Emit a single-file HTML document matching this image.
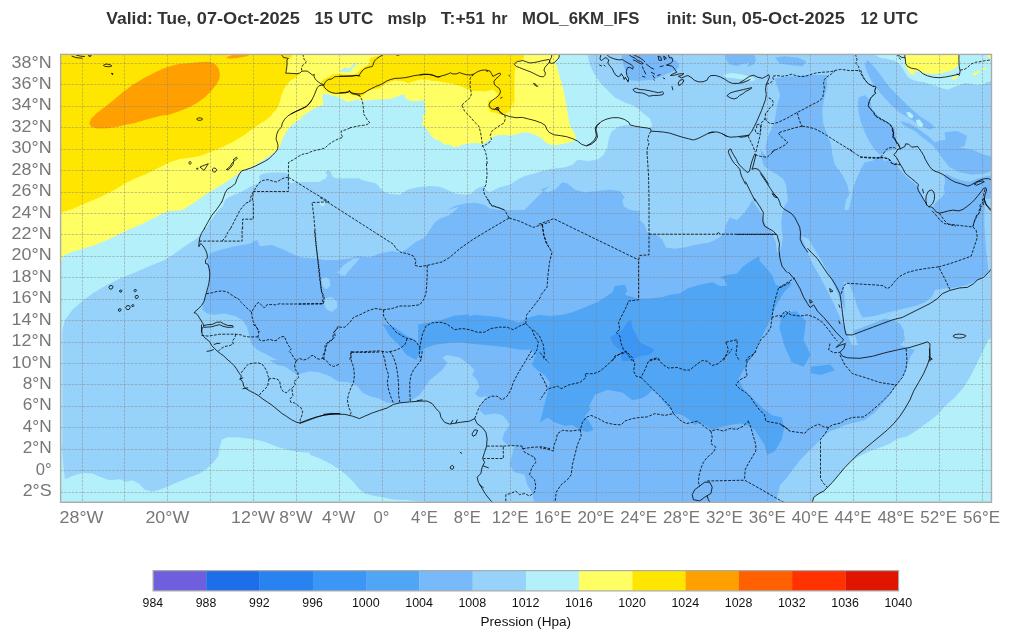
<!DOCTYPE html>
<html lang="fr"><head><meta charset="utf-8"><title>mslp MOL_6KM_IFS</title>
<style>
html,body{margin:0;padding:0;background:#fff;}
body{width:1011px;height:641px;overflow:hidden;font-family:"Liberation Sans",sans-serif;}
svg{display:block;font-family:"Liberation Sans",sans-serif;will-change:transform;}
.t{font-weight:bold;font-size:17px;fill:#333;}
.ax{font-size:16.6px;fill:#777;}
.cb{font-size:13.2px;fill:#111;}
.g{stroke:#808080;stroke-opacity:.45;stroke-width:1;stroke-dasharray:2.5 1.2;fill:none;}
.c{fill:none;stroke:#000;stroke-width:.8;stroke-linejoin:round;stroke-linecap:round;}
.b{fill:none;stroke:#000;stroke-width:.8;stroke-dasharray:2.8 1.4;stroke-linejoin:round;}
</style></head><body>
<svg width="1011" height="641" viewBox="0 0 1011 641">
<rect width="1011" height="641" fill="#fff"/>
<text class="t" y="23.7"><tspan x="106.3" textLength="46.6" lengthAdjust="spacingAndGlyphs">Valid:</tspan> <tspan x="157.3" textLength="34.1" lengthAdjust="spacingAndGlyphs">Tue,</tspan> <tspan x="196.8" textLength="103" lengthAdjust="spacingAndGlyphs">07-Oct-2025</tspan> <tspan x="314.6" textLength="18.4" lengthAdjust="spacingAndGlyphs">15</tspan> <tspan x="338.3" textLength="35" lengthAdjust="spacingAndGlyphs">UTC</tspan> <tspan x="387.4" textLength="39.2" lengthAdjust="spacingAndGlyphs">mslp</tspan> <tspan x="440.8" textLength="44.3" lengthAdjust="spacingAndGlyphs">T:+51</tspan> <tspan x="491.6" textLength="16" lengthAdjust="spacingAndGlyphs">hr</tspan> <tspan x="522.1" textLength="117.3" lengthAdjust="spacingAndGlyphs">MOL_6KM_IFS</tspan> <tspan x="666.7" textLength="30.3" lengthAdjust="spacingAndGlyphs">init:</tspan> <tspan x="701.7" textLength="34.7" lengthAdjust="spacingAndGlyphs">Sun,</tspan> <tspan x="741.8" textLength="103" lengthAdjust="spacingAndGlyphs">05-Oct-2025</tspan> <tspan x="860.5" textLength="17.5" lengthAdjust="spacingAndGlyphs">12</tspan> <tspan x="883.3" textLength="35" lengthAdjust="spacingAndGlyphs">UTC</tspan></text>
<defs><clipPath id="m"><rect x="60.6" y="54.4" width="930.9" height="447.9"/></clipPath></defs>
<g clip-path="url(#m)">
<rect x="60.6" y="54.4" width="930.9" height="447.9" fill="#96d2fa"/>
<path fill="#78b9fa" d="M209.7 253.6L207.2 262.4L209.7 274.9L208.5 287.3L206 294.8L203.5 302.3L202.2 309.8L207.2 313.5L214.7 314.8L224.7 313.5L234.7 316L242.1 319.8L247.1 327.2L249.6 337.2L252.1 344.7L257.1 349.7L267.1 354.7L277.1 359.9L269.6 360L277.1 365L284.6 366.2L292 371.2L297 375L300 373.7L310 371.2L320 372.5L329.9 376.2L337.4 381.2L349.9 382.4L357.4 386.2L362.4 392.4L369.9 396.2L379.8 398.7L386.1 402.4L394.8 403.6L409.8 401.1L419.8 394.9L424.8 387.4L429.7 379.9L436 375L442.2 370L447.2 362.5L442.2 357.5L447.2 355L459.7 357.5L469.7 365L474.7 370L472.2 375L477.1 379.9L479.6 387.4L474.7 393.7L479.6 397.4L487.1 396.2L482.1 402.4L479.6 409.9L484.6 414.9L494.6 413.6L502.1 414.9L507.1 419.9L509.6 424.9L504.6 432.3L502.1 439.8L507.1 444.8L514.6 446.1L512.1 454.8L509.6 464.8L514.6 472.3L524.6 474.8L527 484.7L532 492.2L534.5 503.4L535 508L775 508L780 484.9L785 479.9L792.5 469.9L800 459.9L807.5 452.4L815 444.9L822.5 437.4L830 431.2L837.4 428.7L844.9 424.9L854.9 422.4L864.9 419.9L874.9 412.4L882.4 403.7L889.9 395L897.4 385L904.9 373.7L907.4 365L909.9 357.5L914.9 350L899.9 344.9L904.9 339.9L903.6 329.9L899.9 323.6L892.4 319.9L884.9 318.6L889.9 313.6L897.4 309.9L904.9 308.6L914.9 306.1L924.9 302.4L932.3 296.2L934.8 289.9L942.3 288.7L954.8 287.4L967.3 284.9L977.3 279.9L984.8 274.9L991 269.9L997 270L997 49L765.5 47.3L766.8 66.1L773.5 74.1L774.9 79.5L777.5 87.5L780.2 95.6L777.5 103.6L776.2 111.7L774.9 119.7L772.2 127.7L768.2 135.8L765.5 146.5L766.8 157.2L760.7 150L761.5 158L763.9 165.9L770.2 170.7L776.6 173.9L783 178.7L786.2 185L787 193L787.8 200.9L784.6 205.7L782.2 213.7L781.4 221.6L781.7 229.6L782.7 237.6L781.7 245.5L779.8 252.1L777 252.4L775.8 242.4L772 232.4L765.8 225L762.1 215L757.1 207.5L752.1 200L749.6 205L744.6 212.5L737.1 220L729.6 217.5L725.9 225L724.6 232.4L719.6 237.4L709.7 242.4L694.7 244.9L684.7 247.4L674.7 248.7L666 247.4L662.3 239.9L657.3 234.9L647.3 232.4L644.8 225L639.8 220L639.8 211.2L629.8 210L623.6 206.2L622.3 200L624.8 197.2L619.8 191L609.9 189.7L597.4 191L584.9 192.2L574.9 189.7L567.4 183.5L562.5 182.2L555 189.7L547.5 192.2L540 189.7L550 186L542 192.2L534.5 199.7L524.6 209.9L514.6 209.9L499.6 209.9L489.6 208.4L484.6 204.7L474.7 202.7L464.7 203.4L454.7 205.9L447.2 209.9L469.7 203.7L459.7 206.2L449.7 215L439.7 218.7L434.7 222.5L429.7 229.9L424.8 237.4L414.8 242.4L407.3 248.7L399.8 252.4L392.3 251.1L379.8 253.6L369.9 257.4L357.4 256.1L349.9 258.6L337.4 259.9L325 259.9L315 258.6L300 257.4L310 259.9L297 256.1L284.6 249.9L272.1 244.9L259.6 246.2L257.1 239.9L249.6 243.7L234.7 246.2L219.7 249.9Z"/>
<path fill="#50a5f5" d="M540 314.8L550 316L562.5 314.8L572.4 312.3L584.9 307.3L597.4 302.3L604.9 297.3L612.4 292.3L614.9 286.1L624.8 284.8L627.3 291.1L624.8 294.8L637.3 298.6L649.8 298.6L662.3 297.3L669.7 294.8L679.7 293.6L687.2 288.6L699.7 284.8L712.2 282.3L719.6 286.1L727.1 286.1L724.6 279.8L719.6 277.3L727.1 274.9L737.1 273.6L742.1 267.4L747.1 263.6L754.6 258.6L759.6 256.1L759.6 261.1L764.6 266.1L772 274.9L775.8 284.8L779.5 286.1L790 282.3L791.5 284.6L784.2 291.9L776.9 304L772.1 316.1L767.3 325.7L760 340.2L752.8 354.7L745.5 366.8L738.3 378.9L743.1 388.6L752.8 398.3L762.4 407.9L772.1 415.2L781.8 417.6L784.2 427.3L781.8 439.4L774.5 451.5L767 454.8L764.6 444.8L759.6 437.3L754.6 429.8L747.1 424.9L739.6 423.6L729.6 424.9L719.6 427.3L712.2 429.8L704.7 424.9L699.7 422.4L694.7 424.9L689.7 419.9L682.2 414.9L674.7 413.6L667.2 406.1L662.3 399.9L657.3 392.4L652.3 389.9L647.3 394.9L639.8 399.9L629.8 404.9L622.3 409.9L614.9 412.4L604.9 409.9L597.4 408.6L589.9 409.9L584.9 416.1L589.9 422.4L593.6 429.8L587.4 432.3L579.9 429.8L572.4 424.9L565 426.1L555 422.4L547.5 417.4L540 422.4L550 382.4L544.5 375L537 370L532 365L534.5 357.5L539.5 350L539.5 359.9L532 349.7L519.6 349.7L507.1 347.2L494.6 346L482.1 344.7L469.7 343.5L459.7 342.2L452.2 339.7L447.2 334.7L449.7 327.2L454.7 322.3L464.7 317.3L474.7 314.8L487.1 316L499.6 317.3L509.6 319.8L519.6 322.3L529.5 317.3L539.5 314.8L550 313.5Z"/>
<path fill="#50a5f5" d="M781.8 313.6L796.3 311.2L806 320.9L803.5 340.2L810.8 354.7L803.5 366.8L791.5 362L784.2 345.1L779.4 328.1Z"/>
<path fill="#50a5f5" d="M382.3 323.6L394.5 327L406.6 335.7L416.3 340.6L421.1 350.3L416.3 360L406.6 355.1L399.3 345.4L389.6 335.7Z"/>
<path fill="#50a5f5" d="M810.8 366.8L830.1 364.4L835 370.2L820.5 375L810.8 373.1Z"/>
<path fill="#78b9fa" d="M621.8 52.4L621.8 59.6L624.2 67.5L627.4 75.5L629.8 80.2L637.8 81L645.7 80.2L653.7 79.5L660.1 77.1L666.4 73.9L671.2 72.3L676 69.9L679.2 66.7L678.4 62.7L675.2 59.9L670.4 57.6L669.6 52.4Z"/>
<path fill="#96d2fa" d="M822.4 114.9L822.4 107.4L824.4 97.4L826.9 87.4L827.4 75L817.4 75L804.9 75L792.4 76.2L780 77.4L770 79.9L760 82.4L755 83.7L755 52.5L994.5 52.5L994.5 189.7L994.8 174.9L985.8 176.4L976.9 178.7L969.4 181.7L964.9 180.9L958.9 179.4L952.9 177.2L946.9 174.2L943.9 174.9L945.4 180.9L943.9 186.9L944.6 192.9L941.6 197.4L937.9 200.4L934.9 203.4L933.4 206.4L930.4 207.9L927.4 204.9L924.4 200.4L922.2 195.9L919.9 191.4L917.7 186.9L913.9 182.4L909.4 179.4L904.9 174.9L900.4 170.4L897.5 166L894.7 162.3L889.7 159.8L884.8 161L878.5 156L872.3 161L864.8 162.3L861 168.5L856.1 179.7L852.8 189.7L851.3 199.7L848.6 209.9L844.3 209.9L846.1 199.7L849.3 194.7L847.3 184.7L842.3 174.8L834.9 164.8L832.4 154.8L831.1 144.8L827.4 134.8L823.6 124.9Z"/>
<path fill="#78b9fa" d="M858.6 97.4L864.8 94.9L869.8 99.9L872.3 109.9L879.8 117.4L887.2 122.4L894.7 127.3L896 137.3L897.2 146.1L892.2 149.8L884.8 152.3L879.8 154.8L874.8 149.8L869.8 142.3L864.8 132.3L861 122.4L858.6 112.4L857.8 102.4Z"/>
<path fill="#78b9fa" d="M867.3 60L874.8 67.5L882.3 77.4L889.7 87.4L899.7 97.4L909.7 107.4L919.7 116.1L929.7 122.4L934.7 127.3L929.7 129.8L919.7 124.9L909.7 118.6L899.7 112.4L889.7 103.6L879.8 92.4L872.3 82.4L867.3 72.5L864.8 65Z"/>
<path fill="#78b9fa" d="M899.7 121.1L909.7 123.6L919.7 129.8L929.7 137.3L934.7 142.3L944.6 139.8L952.1 144.8L959.6 147.3L972.1 149.8L984.6 154.8L994.5 157.3L994.5 169.8L984.6 173.5L972.1 174.8L959.6 172.3L949.6 167.3L943.4 159.8L938.4 152.3L932.2 144.8L922.2 137.3L914.7 131.1L904.7 126.1Z"/>
<path fill="#78b9fa" d="M775 57.5L785 56.2L797.4 57.5L806.2 61.2L802.4 66.2L789.9 65L780 63.7Z"/>
<path fill="#78b9fa" d="M944.6 132.3L957.1 131.1L967.1 136.1L964.6 146.1L954.6 148.6L945.9 142.3Z"/>
<path fill="#78b9fa" d="M725.3 52.4L726.1 59.6L729.3 64.3L736.5 65.9L742.8 64L750 62.7L746.4 66.7L752.7 65.1L755.9 61.1L755.1 56.4L752.7 52.4Z"/>
<path fill="#b4f0fa" d="M723.4 74.5L732.1 73L742.1 74.5L752.1 76.9L755.8 79.9L750.8 81.2L742.1 79.4L733.4 77.9L725.9 77.4Z"/>
<path fill="#96d2fa" d="M843.7 282.4L848.7 282.4L853.7 294.9L857.4 307.4L862.4 317.4L874.9 316.1L887.4 312.4L897.4 309.9L889.9 313.6L884.9 318.6L874.9 322.4L862.4 327.4L852.4 331.1L847.4 324.9L845.4 312.4L844.4 297.4Z"/>
<path fill="#96d2fa" d="M801.1 236.3L808.4 238.7L822.9 262.9L835 287L845.6 311.2L854.3 333L858.2 345.1L851.9 345.1L844.6 328.1L834 304L822.9 282.2L810.8 260.4Z"/>
<path fill="#3c96f5" d="M614.9 334.7L622.3 329.7L627.3 322.3L631.1 319.8L632.3 327.2L636.1 334.7L639.8 342.2L649.8 347.2L654.8 349.7L649.8 354.7L639.8 355.9L632.3 360.9L622.3 360.9L619.8 349.7L613.6 344.7L609.9 337.2Z"/>
<path fill="#96d2fa" d="M321.2 279.8L325 276.8L329.4 279.3L330.4 286.1L326.2 289.3L322.5 286.1Z"/>
<path fill="#96d2fa" d="M324.5 298.6L331.2 296.8L336.9 301L337.4 307.8L331.9 311.8L326.2 309.3L324 303.5Z"/>
<path fill="#96d2fa" d="M337.4 272.4L343.7 264.9L353.6 258.6L359.9 257.9L356.1 262.4L348.7 271.1L344.9 276.1L339.9 274.9Z"/>
<path fill="#b4f0fa" d="M320 202L325 202L323.7 206.2L320.5 205.5Z"/>
<path fill="#96d2fa" d="M984.8 198.8L993.5 198.8L993.5 272.4L988.5 271.2L986 250L984.3 225Z"/>
<path fill="#78b9fa" d="M589.2 405.9L594.8 394.7L608 389.8L623 392.8L632.4 400.3L645.6 397.3L655 402.2L645.6 409.7L630.5 411.6L615.5 412.3L600.5 411.6L591.1 411.6Z"/>
<path fill="#50a5f5" d="M418.1 324.4L431.3 322.1L442.6 319.5L453.8 315.7L468.9 314.6L468.9 342L450.1 342.8L435 344.7L423.8 348.4L418.1 357.1Z"/>
<path fill="#b4f0fa" d="M55 330L62.5 329.7L65 319.8L72.5 309.8L82.5 301L92.4 293.6L104.9 286.1L119.9 278.6L134.9 272.4L149.8 266.1L164.8 259.9L174.8 253.6L184.8 246.2L194.7 239.9L201 234.9L207.2 226.2L214.7 215L215 214L219 209.9L223 205.9L225 199.9L228.9 196.9L233.9 194.9L238.9 192.9L242.9 190.9L246.9 188.9L249.9 186.9L253.9 185.4L257.9 183.4L259.9 179.9L258.9 176.4L261.9 174L267.9 173L273.9 172.5L279.8 172.5L285.8 172.8L288.3 175L288.8 177.4L290 182.9L300 182.1L310 182.1L319.9 181.7L321.9 180L325.9 178.5L327.4 175L325.4 172.5L326.9 170.5L329.9 170.8L331.4 173L331.9 176L334.9 178L339.9 178.5L349.9 178.2L358.9 178.2L361.9 180L367.8 181.4L374.8 182.9L377.8 184.9L379.8 187.9L382.8 190.4L385.8 192.4L390 193.9L399.8 194.7L407.3 189.7L417.3 187.2L429.7 186L439.7 186.7L447.2 189.7L454.7 193.5L464.7 194.7L472.2 193.5L474.7 189.7L479.6 187.2L484.6 186L485.9 189.7L489.6 192.2L499.6 187.2L509.6 184.7L517.1 179.7L524.6 176L534.5 173.5L542 171L550 169.3L540 169.3L547.5 169.3L555 168.5L565 167.3L572.4 164.8L577.4 159.8L587.4 161L597.4 159.8L603.6 154.8L607.4 147.3L608.6 139.8L611.1 132.3L617.3 127.3L624.8 124.9L632.3 126.1L639.8 127.3L649.8 128.6L652.3 124.9L649.8 118.6L642.3 112.4L634.8 106.1L624.8 102.4L614.9 97.4L607.4 89.9L599.9 82.4L593.6 72.5L589.9 65L587.4 55L586.9 47.5L55 49Z"/>
<path fill="#b4f0fa" d="M55 325L62.4 325L62.4 445L55 445Z"/>
<path fill="#b4f0fa" d="M55 440L61.2 442.3L62.5 454.8L63.7 469.8L65 479.2L72.5 476L82.5 472.8L92.4 473.5L101.2 477.2L109.9 480.2L119.9 479.2L126.1 481.7L132.4 480.2L138.6 483.5L144.8 489.7L152.3 491.7L159.8 489.7L167.3 486.7L177.3 482.2L189.7 477.2L199.7 473.5L207.2 468.5L213.4 462.3L218.4 456L219.7 447.3L221.7 439.8L227.2 437.3L237.1 437.3L247.1 438.6L257.1 439.8L267.1 442.8L277.1 446.8L287 449.8L297 451.8L310 452.8L310 454.8L320 458.5L329.9 463.5L339.9 469.8L347.4 476L353.6 482.2L358.6 488.5L364.9 493.5L374.9 496L384.8 497.7L394.8 499.7L404.8 499.7L414.8 500.9L424.8 501.7L429.7 502.7L430 508L55 508Z"/>
<path fill="#b4f0fa" d="M997 335L988 340L983.5 350L979.8 357.5L974.8 367.5L969.8 377.5L963.6 387.5L954.8 397.5L944.8 406.2L937.3 414.9L927.4 422.4L917.4 429.9L907.4 436.2L897.4 438.7L889.9 443.7L879.9 447.4L869.9 451.1L859.9 456.1L852.4 459.9L844.9 467.4L837.4 476.1L830 484.9L822.5 492.4L815 496.1L811.2 502.8L811 508L997 508Z"/>
<path fill="#b4f0fa" d="M875 51.5L875 54.5L879.5 57.5L887 59L894.5 60.5L899 63.5L902.7 68L904.9 72.5L907.9 77L912.4 80L918.4 81.5L924.4 82.2L930.4 84.5L936.4 86L942.4 88.2L948.4 89.7L952.9 87.5L958.9 85.2L964.9 83L970.9 83.7L976.9 85.2L982.8 84.5L987.3 82.2L994.8 80L994.8 51.5Z"/>
<path fill="#b4f0fa" d="M906 112.4L909.7 111.9L913.4 115.4L912.2 118.6L908.5 116.9Z"/>
<path fill="#b4f0fa" d="M915.9 119.9L919.7 119.4L923.4 124.9L920.9 127.3L917.2 124.4Z"/>
<path fill="#ffff64" d="M55 262L62 261.1L62.5 256.1L70 252.4L82.5 248.7L94.9 244.9L109.9 238.7L124.9 231.2L139.8 225L152.3 218.7L167.3 211.2L182.3 209.9L194.7 202.2L207.2 193.5L219.7 186L229.7 179.7L238.4 173.5L244.6 169.8L252.1 167.3L259.6 162.3L267.1 157.3L274.6 152.3L279.6 147.3L282.1 139.8L285.8 132.3L290.8 126.1L297 121.1L303.3 117.4L300 116.9L304.7 114.5L309.5 111.4L314.2 108.2L320.6 105.8L323.7 104.2L322.2 99.5L322.9 94L326.9 94L331.7 95.5L338 97.1L342.7 99.5L347.5 101.9L352.2 101.1L357 99.5L361.7 101.1L368 100.3L374.4 99.5L382.3 99.5L390.2 98.7L396.5 97.1L401.3 94.7L404.4 94.7L406 98.7L410.8 101.1L417.1 101.1L424.2 100.3L425 105.8L425.8 113.7L422.6 115.3L423.4 120.1L421.9 124L425 127.2L428.2 131.1L431.3 135.9L434.5 139.1L439.3 140.6L444 144.6L448.8 144.6L453.5 147L460 146.2L460.6 145.1L468.5 143.5L476.4 142.7L481.9 144.3L487.5 141.1L490.6 138.8L495.4 135.6L503.3 134.8L511.2 135.6L517.5 134L522.3 132.4L528.6 132.4L535 134.8L541.3 138L545.2 141.9L550.8 145.1L557.1 145.1L565 143.5L571.3 141.9L576.1 139.6L574.5 133.2L571.3 128.5L569 122.2L568.2 115.8L566.6 107.9L565.8 100L566.3 109.9L565.8 103.9L564.8 96.9L563.3 89.9L561.8 83.9L559.8 76.9L557.8 70L556.8 65L553.9 63.5L555.8 61L558.8 58L559.8 55L560 50L55 49Z"/>
<path fill="#b4f0fa" d="M339.8 72L341.8 69.5L344.8 67.5L347.8 68.5L351.3 67L353.8 64L355.8 62.5L355.3 65L353.3 67.5L351.3 70L347.8 71.5L344.8 70.5L342.8 71.5Z"/>
<path fill="#b4f0fa" d="M340 72L343 70L346 67.5L349 69.5L351 71.5L348 72.5L344 71.5Z"/>
<path fill="#b4f0fa" d="M351.5 67L354 63.5L356 62.5L355 65.5L353 68Z"/>
<path fill="#ffff64" d="M904.9 53L904.9 63.5L907.2 69.5L910.9 74L914.7 74.7L913.9 71L919.9 71.7L925.9 73.2L931.9 74L937.9 73.7L943.9 72.5L949.9 71L954.4 68.7L957.4 66.5L958.9 63.5L958.9 53Z"/>
<path fill="#ffff64" d="M951.4 78.5L954.4 76.2L958.9 75.5L957.4 77.7L953.6 80Z"/>
<path fill="#ffff64" d="M972.4 74.7L976.1 71.7L979.9 71L978.4 73.2L974.6 75.8Z"/>
<path fill="#ffff64" d="M982.1 68.7L986.6 67.2L985.8 69.2L982.8 70.2Z"/>
<path fill="#ffff64" d="M985.8 53L992.6 53L992.6 59L988.8 57.5Z"/>
<path fill="#ffe600" d="M55 214L60 212.7L70 209.9L85 203.4L99.9 197.2L114.9 189.7L124.9 183.5L134.9 178.5L147.3 173.5L159.8 167.3L169.8 162.3L179.8 159L189.7 157.8L199.7 156L209.7 152.3L222.2 147.3L234.7 141.1L244.6 134.8L254.6 127.3L264.6 121.1L272.1 114.9L272 114L276 109.9L278.5 105.9L280 100.9L281.5 94.9L283.5 89.9L285.9 85.9L288.9 81.9L292.9 78.9L296.9 76.4L299.9 74L298.9 73.5L292.9 73.2L288.9 73L285.9 73.2L285.4 71.5L286.9 68L286.7 63L287.4 59.5L289.9 58.5L291.9 57L292.1 54.5L292.1 50L55 49Z"/>
<path fill="#ffe600" d="M381.9 50L381.9 54.5L379.9 55.5L374.9 56.5L370.9 58L368.9 60L369.9 62L367.9 65L364 67L361 69L359 71.5L357 73.5L352 74.5L346 74.5L340 74.5L354.8 74.8L349.8 75L344.8 74.5L339.8 74L335.8 74L331.9 74.5L329.9 76.4L325.9 77.9L322.9 79.9L320.9 82.9L322.4 85.9L323.9 89.4L327.9 91.9L331.9 93.4L335.8 93.4L339.8 93.9L344.8 93.4L348.8 92.9L349.8 94.4L354.8 95.4L360 96.9L363 95.4L366.9 91.9L371.9 89.4L376.9 88.4L379.9 88.4L381.9 86.4L384.9 83.9L389.9 81.9L394.9 80.4L399.9 80.9L404.9 81.4L407.9 83.4L411.9 81.9L415.8 80.4L419.8 79.9L420 78.9L424 79.9L428 79.4L432 80.9L437 80.9L442 81.9L446.9 82.9L451.9 83.4L456.9 84.9L461.9 86.4L465.9 88.4L469.9 89.9L473.9 90.9L479.9 90.9L484.9 91.4L489.9 90.4L492.9 89.4L495.8 91.9L497.8 93.9L496.8 96.9L494.9 99.9L488.3 100L488.3 107.9L490.6 111.9L495.4 112.7L500.1 114.2L504.9 114.2L509.6 111.1L512 106.3L512.8 100L513.9 109.9L514.4 99.9L514.4 89.9L514.4 79.9L514.9 70L515.9 67L514.4 65L515.4 62L517.9 61L521.9 60L523.9 58L523.9 55L523.9 50Z"/>
<path fill="#ffa000" d="M89.2 123.6L91.2 118.6L97.4 112.4L104.9 106.9L113.6 99.9L122.4 92.4L132.4 84.9L144.8 77.4L157.3 71.2L167.3 67L177.3 64.2L189.7 63L202.2 62L209.7 61.7L214.7 63.7L218.4 68L219.9 73.7L219.2 79.4L215.9 84.9L210.9 91.2L204.7 97.4L197.2 102.9L189.7 106.9L179.8 111.1L169.8 114.4L159.8 116.1L152.3 117.9L144.8 119.9L134.9 122.9L124.9 124.9L114.9 127.3L104.9 128.6L97.4 128.6L91.2 126.8Z"/>
<path fill="#ffa000" d="M225.9 57.5L232.2 55L244.6 53.7L250.1 54.5L247.1 56.2L237.1 58L229.7 58.7Z"/>
<path class="g" d="M82.5 54.4V502.3M124.5 54.4V502.3M167.5 54.4V502.3M210.5 54.4V502.3M253.5 54.4V502.3M296.5 54.4V502.3M339.5 54.4V502.3M382.5 54.4V502.3M424.5 54.4V502.3M467.5 54.4V502.3M510.5 54.4V502.3M553.5 54.4V502.3M596.5 54.4V502.3M639.5 54.4V502.3M682.5 54.4V502.3M725.5 54.4V502.3M767.5 54.4V502.3M810.5 54.4V502.3M853.5 54.4V502.3M896.5 54.4V502.3M939.5 54.4V502.3M982.5 54.4V502.3M60.6 63.5H991.5M60.6 84.5H991.5M60.6 106.5H991.5M60.6 127.5H991.5M60.6 149.5H991.5M60.6 170.5H991.5M60.6 192.5H991.5M60.6 213.5H991.5M60.6 234.5H991.5M60.6 256.5H991.5M60.6 277.5H991.5M60.6 299.5H991.5M60.6 320.5H991.5M60.6 342.5H991.5M60.6 363.5H991.5M60.6 384.5H991.5M60.6 406.5H991.5M60.6 427.5H991.5M60.6 449.5H991.5M60.6 470.5H991.5M60.6 492.5H991.5"/>
<path class="c" d="M280.5 54L282.5 56L283.5 57.5L286.4 58L288.4 58.5L286.9 60L287.1 64L286.7 68L286.1 71.5L285.7 73.2L288.9 73.2L292.9 73.5L296.9 73.7L299.9 73L301.9 71.2L304.9 71L307.4 71.2L309.9 73L312.4 75L314.4 74.5L313.9 76.1L314.9 78.4L316.4 80.4L318.9 82.4L321.4 83.9L323.9 84.9L324.9 82.9L326.4 80.9L328.9 79.4L331.9 78.9L334.4 76.9L338.8 76.4L343.8 76.4L348.8 76.1L353.8 75.7L358.3 75.4L360 76.1M290.9 114L295.9 111.4L301.9 108.9L306.9 106.4L309.9 102.9L311.9 99.9L313.9 95.9L315.9 90.9L317.4 87.4L318.9 85.9L321.9 85.1L323.9 85.4L324.4 87.4L326.4 89.4L328.9 91.4L331.9 92.7L335.8 93.4L339.8 93.1L344.8 92.9L348.3 92.4L349.3 90.9L350.3 92.4L352.8 93.9L355.8 94.4L358.8 95.4L360 96.1M311.8 100L309.4 103.2L306.2 106.4L301.4 108.8L296.7 111.1L291.9 113.5L287.9 115.9L284.7 119.1L282.3 123.1L281.5 127.1L278.4 130.2L276.8 134.2L276 139L277.2 142.2L278 145.4L277.6 149.4L275.2 152.5L272 155.7L268.8 158.9L264.8 161.3L260.1 163.7L255.3 166.1L250.5 168.1L245.7 169.7L241.7 170.8L239.4 174L237 178.8L235.4 183.6L231.4 186.8L227.4 189.2L225 193.1L223.4 197.9L221.8 202.1M202.4 119.1L201.9 119.9L200.4 120.3L198.7 120.3L197.2 119.9L196.7 119.1L197.2 118.4L198.7 117.9L200.4 117.9L201.9 118.4ZM191 162.9L190.8 163.7L190.3 164.3L189.7 164.3L189.2 163.7L189 162.9L189.2 162L189.7 161.5L190.3 161.5L190.8 162ZM197.8 168.8L197.5 169.3L196.8 169.3L196.5 168.8L196.8 168.2L197.5 168.2ZM200.3 166.9L208.3 163.7L204.3 170.1ZM216.4 170.1L216 171.3L215 172L213.7 172L212.7 171.3L212.3 170.1L212.7 168.8L213.7 168.1L215 168.1L216 168.8ZM226.6 169.3L229.8 166.9L232.2 162.9L233.8 161.3L233 164.5L230.6 167.7L228.2 169.6ZM233.3 159.7L236.2 157.3L237.4 158.1L235.4 160.2ZM340 76.1L346 76.1L352 76.1L356.5 75.4L358.5 76.1L360 74L362 71L365 68.5L368.9 67.2L372.4 66.5L373.4 64L374.4 61L376.9 58.5L379.9 56.5L382.9 55L383.9 54M340 92.9L345 92.4L348.5 91.7L349.5 90.4L350.5 92.4L354 93.4L358 93.9L361 93.9L364 92.9L367.9 90.4L371.9 88.4L375.9 86.4L379.9 84.9L382.9 83.4L386.9 80.9L390.9 79.4L394.9 78.4L399.9 78.2L404.9 77.7L409.9 76.7L413.9 75.7L418.8 75L422.8 74.2L426.8 74.2L430.8 74.5L433.8 75.4L436.8 76.7L440 76.9M396.4 55L398.9 55.2M420 75.1L424 74.5L429 74.5L433 75.4L437.5 77.1L441 76.1L445 75L448.4 73.8L450.4 72.8L452.9 74L456.9 73.8L459.4 72.5L462.9 73.8L466.9 74.8L470.9 75L473.9 74L477.9 71.5L481.9 70.2L485.9 70L489.9 71L491.4 73.5L492.9 76.4L494.9 75.4L497.3 74L499.8 73L500.8 74.2L498.8 76.4L495.8 78.9L493.9 81.4L494.4 84.4L496.3 86.4L499.3 88.4L500.3 90.9L500.3 92.9L498.8 95.4L495.8 97.9L492.9 99.9L490.4 101.9L489.1 104.4L489.4 106.9L491.9 108.9L495.3 109.4L497.8 109.9L499.8 111.4L502.8 114M499 108.7L498.7 109.5L497.8 109.9L497 109.5L496.6 108.7L497 107.8L497.8 107.5L498.7 107.8ZM486.4 71L487.4 71.4M508.8 75.4L509.8 76.1M500.6 98.1L502 97.5M515.4 63L517.4 61.5L519.9 61.2L522.9 60.5L526.9 62L529.9 63L533.9 62.5L537.9 61.8L541.9 60.8L545.9 60L548.9 59.5L549.9 61L548.9 63L546.9 65L544.9 67.5L543.9 70L545.4 73L544.9 75.4L543.4 76.9L539.9 76.4L536.9 75L533.9 73.5L530.9 72L526.9 70.5L522.9 69L519.4 67.5L516.4 66.5L514.9 65ZM551.9 54L551.4 57.5L549.9 60L549.4 62.5L551.9 63.5L554.4 62.5L556.8 60L558.8 58L559.3 56L558.8 54M533.9 83.4L535.9 84.4L537.7 86.4L536.1 86.1L534.4 84.7ZM494.6 109.5L497 107.1L498.6 110.3L500.9 113.5L504.9 115L509.6 116.6L516 117.7L522.3 117.4L528.6 119L535 120.6L541.3 122.9L545.2 125.3L546.8 129.3L549.2 132.4L553.9 134.8L560.3 135.6L566.6 136.7L572.9 138.8L577.7 141.1L581.6 144.3L586.4 145.9L591.1 144.3L595.1 141.1L597.5 137.2L596.7 132.4L595.1 128.5L596.7 125.3L600 122.9M601.1 54L599.9 58.8L601.5 60.8L603.5 58.8L605.9 57.6L608.8 59.9L607.8 63.1L609.9 65.9L612.3 68.8L613.9 72.3L615.8 75.2L618.3 76.7L620.6 75.5L621.2 73.6L623.1 76.3L624.2 79.5L625.3 77.1L626.9 80.2L628.2 81.4L628.7 78.7L626.9 75.5L626.3 71.5L627.4 67.8L629.8 67.2L632.7 69.1L633.3 66.7L631.1 64.6L628.2 63.1L625.3 61.5L622.6 59.6L618.7 59.9L613.9 58.8L609.9 57.2L605.9 54M628.2 54L631.7 56.7L635.4 58.3L637.8 60.5L640.6 61.5L643.3 63.5L641.3 64L638.6 62.7L636.2 61.1L633.3 59.9M632.2 54L636.2 56L640.2 58L643.3 60.3L644.9 61.9M642.5 66.7L643.3 69.1M644.1 70.7L645.7 73.9M642.5 76.3L644.9 77.1M646.5 64.3L649.7 66.7M650.5 67.5L653.7 69.1M651.3 72.3L654.5 73.9M652.9 75.5L654.5 77.9M653.7 79.5L654.5 80.2M657.7 75.5L660.1 74.7M660.1 66.7L663.2 65.9M663.2 77.9L664.8 78.7M672 86.6L672.8 89.8M599.6 65.1L601.5 65.9M604 65.1L605.1 66.2M627.4 80.2L628.2 81.8M658.5 56.4L660.8 57.2L661.6 60.3L659.3 60.3ZM664 56.4L666.4 58L664.8 59.6ZM668 54L669.6 58L672 57.6L672.8 61.1L670.4 63.5L666.4 65.1L671.2 65.9L672.8 66.7L675.2 69.9L676.8 72.3L672.8 73.9L670.4 75.5L674.4 75.2L679.2 73.9L683.9 73.6L681.5 75.5L678.4 76.3L681.5 77.9L685.5 76.3L687.9 75.5L691.9 77.9L694.3 80.2L698.3 81.8L703 81.8L707 80.2L708.6 77.1L711 75.5L715.8 75.5L720.6 77.1L725.3 79.5L728.5 81.8L732.5 83.4L738.1 83.4L742.8 82.6L746.8 81L750 79.5M678.4 82.6L680 80.2L683.1 79.5L683.9 81L681.5 84.2L679.2 85.3ZM633.8 89L636.2 88.2L639.4 89.5L644.1 89.8L648.9 90.6L653.7 91.7L658.5 92.7L662.4 91.7L663.6 92.7L662.9 94.6L658.5 95.4L653.7 95.4L648.9 96.2L646.5 94.6L642.5 93L637.8 92.7L634.6 91.7L633.3 90.1ZM727.2 95.4L730.1 93L734.1 91.7L738.9 90.6L743.6 89.5L749.2 88.2L751.9 87.7L750 89.3L745.2 91.7L742.8 93.8L739.7 95.4L737.3 97.8L734.1 99L730.1 97.8L728.2 96.5ZM586.8 145.5L590 143.9L594 140.7L596.4 136L595.6 130.4L597.2 125.6L601.1 121.6L605.9 119.3L612.3 117.7L618.7 117.7L624.2 119.3L629 122.4L629.8 124.8L634.6 126.1L640.9 127.2L647.3 128L650.5 128.8L651.3 131.2L656.9 131.5L663.2 132L669.6 133.1L676 135.2L682.3 137.2L688.7 138.8L693.5 140L698.3 138.4L703 136L707.8 133.6L711.8 132L717.4 132L722.1 133.6L726.1 136L730.1 137.2L736.5 136.8L742.8 136L749.2 135.2M708.6 133.1L713.4 132.3M722.9 134.1L726.9 136.3M740 82.6L744.8 79.5L749.6 76.3L753.5 75.2L757.5 77.1L762.3 78.3L766.3 76.3L768.7 74.7L769.5 77.1L767.9 81L766.3 84.2L765.5 89L766.3 94.6L765.5 99.4L763.9 104.1L761.5 110.5L759.1 116.1L756.7 121.6L754.3 126.4L751.9 131.2L748.8 135.2L744.8 136.8L740 137.2M760.7 173.9L763.9 178.7L767.1 183.4L770.2 188.2L773.4 193L775.8 196.2L778.2 198.6L779.8 202.5L780.6 205.7L783.8 208.9L787.8 211.3L791.7 213.7L794.9 217.7L797.3 222.4L799.7 227.2L800.5 232.8L800.2 239.2L802.1 243.9L805.3 248.7L807.7 252.1M745.6 181.8L748.8 188.2L751.9 194.6L755.1 200.9M772.6 193.8L775 194.9L777.4 197.8L774.7 197ZM896.7 53.7L901.2 57.2L904.9 57.8L904.9 53M905.2 57.8L905.7 63.5L907.6 66.5L911.7 68.3L916.9 69.2L919.9 71L922.9 73.7L927.4 75.8L933.4 77.3L939.4 77.7L945.4 77L951.4 75.8L956.6 74.7L959.6 74L960.1 71L959.2 66.5L958.9 60.5L958.9 53M957.1 74L959.6 75.2M897.5 149.5L901.9 148L904.9 146.5L905.7 143.8L908.7 144.2L911.7 147.2L914.7 146.8L917.7 146.5L919.2 148.7L921.4 151.7L923.7 155.5L925.2 159.2L927.4 163L929.7 166.7L931.9 169.3L934.9 171.2L939.4 172.7L943.1 174.6L946.9 177.2L951.4 180.2L955.9 182.4L960.4 183.6L964.9 185.1L967.9 186.2L971.6 184.7L975.4 182.4L979.9 180.2L984.3 178.7L988.8 178.7L992.6 180.6M974.6 183.9L978.4 181.7L982.8 180.9L984.3 181.7L980.6 183.6L976.9 185.1ZM897.5 149.5L896 152.5L893.7 154.7L896.7 157.7L898.2 160.7L900.4 164.5L902.7 168.2L904.9 172.7L907.9 175.7L911.7 178.7L915.4 181.7L918.4 184.7L917.7 187.7L918.4 190.7L920.7 194.4L922.9 198.2L925.2 201.9L926.7 204.9L928.9 206.7L931.9 207.2L934.2 209.4L936.4 212.1L939.4 213.1L943.9 212.1L948.4 210.9L952.9 210.1L958.9 210.9L963.4 209.1L967.1 206.4L970.9 203.4L974.6 199.7L978.4 195.2L981.3 191.4L983.6 188.4L985.8 187.7L986.6 189.9L985.1 194.4L984.3 198.9L985.8 203.4L988.1 207.2L990.3 210.1L992.6 211.6M926.7 204.9L925.9 200.4L926.2 195.9L928.2 191.4L931.2 189.9L933.4 191.4L934.6 195.2L934.2 199.7L932.7 203.4L930.4 205.7L928.9 206.7M922.6 189.2L923.4 192.9M204.7 228.4L201.5 233.2L199.9 237.2L199.1 241.9L198.8 246.7L200.7 243.5L203.1 245.9L205.5 249.9L207.1 253.9L207.4 257.9L205.5 260.2L205.5 263.4L207.9 264.2L209.1 268.2L209.8 273L209.6 277.8L209 282.5L207.9 287.3L206.3 292.9L205.2 296.9L203.9 301.6L201.5 305.6L198.3 308.8L195.1 311.5L194 312.8L195.9 313.1L198.3 316L200.7 320L203.1 323.9L203.9 326.3L202.3 327.9L201.5 332.1M203.9 325.5L207.9 324.7L212.6 324.3L216.6 322.3L220.6 322L223.8 323.9L227.8 325.5L232.5 325.5L233.3 327.1L227.8 327.4L223 326.3L219.8 324.7L215.8 325.5L211.8 326.8L207.1 327.1L203.9 327.4M201.5 325L201.5 329.8L202.3 334.6L204.7 337.7L207.9 340.1L210.2 342.5L211.8 345.7L214.2 348.1L217.4 351.3L220.6 353.7L223.8 356L227 359.2L230.9 362.4L234.1 365.6L236.5 368.8L238.9 372.8L241.3 375.9L240.5 379.1L242.9 382.3L243.7 386.3L246.1 388.7L250.1 391.1L254.8 393.5L258.8 395.8L262.8 399L267.6 402.2L272.3 405.4L277.1 409.4L281.9 413.4L286.7 416.5L291.4 419.7L296.2 422.1L300.2 423.2L305.8 421.3L312.1 418.9L318.5 416.5L324.9 415L331.2 414.2L340 413.4M207.1 351.3L210.2 350.8L213.4 349.7M214.2 344.4L216.9 343.5L219.8 343.3M239.7 379.1L242.9 377.9M242.9 388.7L247.7 387.9M300 422.9L307.5 419.9L315 417.4L325 414.9L334.9 414.1L344.9 414.4L352.4 416.1L359.4 418.6L364.9 416.1L372.4 412.9L379.8 410.4L387.3 407.9L393.6 404.4L399.8 402.9L409.8 401.9L419.8 401.1L427.2 401.1L432.2 403.6L436 408.6L439.7 412.4L441 417.4L444.7 422.4L449.7 424.1L459.7 422.4L469.7 421.1L474.7 418.6L477.1 423.6L482.1 427.3L485.9 432.3L487.1 438.6L486.6 446.1L484.6 452.3L482.6 458.5L484.6 462.3L482.1 467.3L480.9 473.5L477.1 477.2L478.4 482.2L482.1 488.5L485.9 494.7L490.9 500.9L495.9 505.2M472.2 433.6L474.7 429.8L477.6 430.3L475.9 434.8L473.4 436.1ZM460.2 452.3L461.7 453.3M450.4 466.8L452.2 465.3L453.9 466.8L452.7 469.3L450.9 468.8ZM323.7 414.4L331.2 413.4L338.7 413.6M417.3 400.6L422.3 399.9M450.9 423.6L452.7 420.4M455.9 422.9L457.2 419.9M483.4 466L488.4 467.8M479.6 484.7L483.4 487.7M754.6 198.8L759.6 206.2L763.3 212.5L762.8 221.2L764.6 226.2L773.3 231.2L777 234.9L779.5 243.7L779 249.9L780 258.6L782 266.1L785.8 271.1L787 272.4M699.7 486L694.7 489.7L692.2 494.7L693.4 499.7L699.7 500.9L704.7 497.2L710.9 493.5L712.2 487.2L709.7 482.2L704.7 482.2L699.7 486M707.2 496L708.4 499.7L710.2 502.7M929.4 348.8L929.9 357.5L927.4 365L923.6 373.7L918.6 382.5L913.6 391.2L909.9 400L904.9 408.7L899.9 416.2L893.6 423.7L887.4 429.9L879.9 436.2L872.4 442.4L864.9 448.7L857.4 454.9L851.2 461.1L844.9 467.4L838.7 474.9L832.4 482.4L827.5 487.4L823.7 491.1L818.7 493.6L813.7 497.4L812 503.6M928.9 357L932.3 359L929.9 360M807.7 248.5L811.2 252.4L817.5 258.7L822.5 266.2L827.5 273.7L832.4 279.9L836.2 286.2L839.9 293.7L841.2 302.4L842.4 312.4L843.7 322.4L844.9 329.9L846.2 334.9L852.4 334.9L862.4 331.1L872.4 327.4L882.4 323.6L892.4 319.9L902.4 317.4L909.9 313.6L919.9 308.6L929.9 303.6L937.3 298.7L942.3 293.7L949.8 290.4L959.8 287.9L967.3 287.4L973.6 283.7L977.3 279.9L983.5 277.4L988.5 272.4L992.3 267.9M788.7 272.4L795 279.9L800 288.7L803.7 297.4L807.5 303.6L810 307.4L813.7 304.9L817.5 311.1L823.7 317.4L830 324.9L836.2 332.4L841.2 337.4L843.7 339.9L839.9 343.6L836.2 347.4L839.9 345.4L845.4 343.6L843.7 348.6L839.9 352.3L842.4 356.1L847.4 357.8L859.9 358.3L872.4 356.3L884.9 352.8L897.4 349.9L909.9 347.4L919.9 344.4L927.4 341.9L929.9 343.6L929.9 361.1M965.6 336.1L964.7 337.1L962.4 337.8L959.3 338.1L956.2 337.8L953.9 337.1L953.1 336.1L953.9 335.1L956.2 334.4L959.3 334.1L962.4 334.4L964.7 335.1ZM810 299.9L812.5 301.9L810.5 302.9ZM830 288.7L832.9 291.2L830.7 291.9ZM838.9 304.9L839.9 307.4M838.9 321.1L839.9 323.6M983.5 198.8L986 205L992.3 210.5M745.4 184L743.4 179.9L741.4 175.9L740.4 172.4L739.9 169.4L737.4 166.4L734.4 163.4L731.9 159.9L729.9 155.9L728.4 152.4L728.9 149.9L729.9 149.1L730.9 149.1L731.9 151.9L733.9 155.4L736.4 159.4L737.9 162.9L740.4 165.9L742.9 168.4L745.4 170.9L747.4 172.4L748.9 171.9L749.9 169.4L750.9 164.9L752.4 159.9L753.9 155.9L754.9 153.9M755.9 154.4L754.9 158.9L753.9 162.9L752.9 166.9L751.9 169.4L754.9 168.4L758.4 169.4L760.9 172.9L763.9 176.9L766.4 180.9L768.4 184M112.9 287.3L111.9 289L109.9 289L108.9 287.3L109.9 285.6L111.9 285.6ZM121.8 291.1L121.2 292.1L120 292.1L119.4 291.1L120 290.1L121.2 290.1ZM136.3 290.6L135.7 291.6L134.5 291.6L133.9 290.6L134.5 289.6L135.7 289.6ZM138.2 296.9L137.4 298.3L135.8 298.3L135 296.9L135.8 295.5L137.4 295.5ZM130.1 307.6L129 309.5L126.8 309.5L125.7 307.6L126.8 305.7L129 305.7ZM121 310L120.3 311.2L118.9 311.2L118.2 310L118.9 308.8L120.3 308.8ZM133.7 305.7L133.2 306.6L132.2 306.6L131.7 305.7L132.2 304.8L133.2 304.8ZM72 56.2L76 57.6L82 58.2M76.5 55.2L81 56.2L84.5 56.6M88.8 55.2L90.5 54.9L91.2 56L89.5 56.4ZM103.8 65L106 64L110 64.6L111.8 66L109 66.8L105 66.4ZM111.8 73.4L113 73.6L112.6 74.4ZM221.7 202L217.2 208.7L211.7 215.5L207.7 222.5L204.2 228.7"/>
<path class="b" d="M302.9 54L303.9 59L306.4 62L302.9 65L301.4 68L301.9 71.2M350 127.9L346.8 129.5L341.2 131L341.2 134.2L342.8 137.4L338.1 139L333.3 141.4L328.5 144.6L325.3 147.8L320.6 149.4L315.8 150.2L311 151.7L307.8 153.3L303 154.1L298.3 156.5L293.5 159.7L288.7 162.1L288.4 168.5L288.4 177.2L288.4 191.5L253.7 191.5L252.9 195.5L252.1 202.1M288.4 177.2L283.9 178L280.7 179.6L276.8 182L272.8 181.2L268 179.6L263.2 180.4L260.1 182L256.9 186L254.5 190L253.4 191.5L251.3 195.5L249.7 202.1M288.4 177.2L301.4 185.2L314.2 193.1L325.3 199.5L329.3 202.1M358.5 94.4L360 96.4L361.5 98.9L362.5 101.9L363.2 105.9L363.5 109.9L363.8 114M473.9 74.5L470.9 76.9L469.9 78.9L470.4 81.9L469.9 84.9L470.4 87.9L470.9 90.9L471.4 93.9L470.4 96.9L468.9 98.9L466.4 100.9L463.9 102.9L461.9 105.4M504.9 115L505.2 119L504.1 122.9L500.1 125.3L495.4 128.5L491.4 131.7L490.3 135.6L491.4 139.6L489.1 142.7L485.1 145.1L481.9 146.2M462.2 105.5L464.5 111.1L469.3 115.8L474 121.4L478.8 126.1L480.4 131.7L481.5 138L482.4 145.1L485.1 150.6L486.7 157L487.2 163.9M363.6 113.9L367.4 119.9L369.9 122.9L366.1 124.9L357.4 126.1L349.9 127.8M486.4 163.5L487.1 174.8L485.9 184.7L483.4 189.7L484.6 194.7L488.4 199.7L490.9 204.7L497.1 207.2L504.6 209.9M650.8 131.2L648.9 135.2L647.6 139.2L648.9 143.9L647.3 147.9L647 152.1M766.3 84.2L771 82.6L773.4 79.5L772.6 76.3L776.6 75.5L782.2 76.3L787.8 75.5L791.7 74.2L795.7 75.5L800.5 76.7L805.3 76.3L810.1 74.7L815.6 73.1L821.2 72.3L826.8 72L831.5 71.5L835.5 70.4L840.3 69.4L845.1 69.9L849.9 70.7L854.6 70.4L858.6 70.7M855.4 54L857 59.6L855.9 63.5L858.6 66.7L859.4 70.7L861 73.9L863.4 77.9L866.6 81.8L869.8 85L874.5 86.9L876.1 87.4L874.5 90.6L875.3 93.8L872.1 96.2L869.8 99.4L869 102.5L868.2 105.7L870.6 108.9L873.7 112.1L875.3 115.3L879.3 117.7L883.3 120.1L887.3 122.4L890.5 124.8L892.8 128.8L893.6 132.8L892.8 137.6L895.2 140L897.6 143.1L899.2 145.5L900 148.7M896.8 54L899.2 58L900.8 59.6M835.5 70.4L831.5 73.9L826.8 77.1L824.4 79.5L823.6 83.4L824.4 88.2L823.6 92.2L822.8 97L821.2 99.4L818 101.7L813.2 104.1L808.5 106.5L803.7 109.2L797.3 112.4L792.5 115L787.8 117.7L783 120.1L778.2 122.4L773.4 123.6L769.5 123.2L766.3 120.8L765.5 117.7M797.3 112.9L798.9 118.5L800.5 123.2L802.1 126.1M802.1 126.1L794.1 128L786.2 130.4L778.2 132.8L780.6 136L783.8 139.2L787.8 142.3L785.4 144.7L781.4 147.1L776.6 149.5L773.4 151.1L771.8 152.1M802.1 126.1L808.5 127.2L814.8 128.8L821.2 132L827.6 136L833.9 140L840.3 143.9L846.7 147.9L853 152.1M768.7 97.8L771.8 99.4L773.4 102.5L772.6 105.7L769.5 108.1L767.9 111.3L765.5 112.9L765.2 117.7L763.9 120.8L761.5 122.4L760.7 129.6L759.9 136L758.3 142.3L756.7 148.7L755.9 152.1M756.7 124.8L759.1 124L760.7 126.4L760.4 131.2L758.3 133.6L755.9 132.8L755.1 129.6L756.7 127.2L756.7 124.8M748 136L750.3 140.7L752.7 145.5L754.6 150.3L755.1 152.1M736.8 234.4L776.6 234.4M755.1 154.8L760.7 156.4L767.1 157.2L771.8 153.2L775 149.2M849.9 149.2L854.6 153.2L861 157.2L869 158L876.9 158.3L883.3 157.2L889.7 159.6L892 163.5L900 164.3M960.1 70.2L964.9 69.2L967.9 67.2L970.9 64.2L975.4 62.3L979.9 61.7L984.3 60.8L988.8 60.2L992.6 59.9M860.7 70.2L862.2 74.7L864.5 79.2L867.5 83L872 85.7L875.7 86.7L875 90.4L875.7 93.4L872.7 95.7L870.5 98.7L869 102.4L868.2 106.2L870.5 109.2L873.5 112.2L875 115.9L878.7 118.2L882.5 120.4L886.2 121.9L890 124.2L892.2 127.9L893.7 132.4L893 136.9L895.2 139.9L897.5 143.6L900.4 146M985.1 189.2L983.6 194.4L984.3 199.7L982.1 203.4L979.9 204.9L980.6 209.4L979.9 212.4L976.9 214.6L975.4 218.4L973.9 222.9L973.1 226M939.4 213.1L943.9 219.9L948.4 224.4L955.9 226M860 157L880.2 157.7L883.2 154L886.2 149.5L890 147.7L894.5 147.7L897.5 149.5M880.2 157.7L888.5 158.5L890.7 162.2L893 164.5L900.4 164.8M892.2 129.3L893 134.5L895.2 139L896.7 143.5L899.3 146.5L900.4 149.5M199.1 241.1L222.2 241.1L242.1 241.1L242.1 228.4M222.2 241.1L225.4 237.2L227.8 232.4L230.6 228.4M206.3 293.7L211.8 292.9L217.4 291.3L223 291L227 291.8L230.9 294.5L234.9 297.2L238.1 298.5L241.3 302.4L245.3 306.4L248.5 309.6L251.6 312L254 308L256.4 304L258.8 302.4L261.2 304.8L264.4 308L266.8 304.8L270.7 304.5L275.5 304.8L280.3 303.6L281.9 304L323.3 304L324.1 300.1L324.1 296.1L321.7 292.1L320.9 285.7L320.1 277.8L319.3 269.8L318.2 261.8L317.2 253.9L316.1 245.9L315.3 238L314.5 230M251.6 312L252 316.8L253.2 321.5L255.6 325.5L258 329.5L259.6 332.1M201.5 335.3L207.9 336.1L213.4 335.3L219.8 334.2L227.8 334.2L235.7 334.2L241.3 334.9L243.7 336.1L248.5 336.9L253.2 336.9L258 336.9M253.2 324.2L257.2 328.2L258.8 333L258 336.9L259.6 340.1L262.8 340.9L266.8 340.1L270 339.3L273.9 340.9L277.1 340.1L280.3 336.9L284.3 336.5L285.9 340.1L287.5 344.1L289.9 347.3L291.4 348.9L289.1 351.3L291.4 353.7L293.8 357.6L296.2 360.8M235.7 334.2L234.9 337.7L232.5 340.9L233.3 344.1L229.4 345.7L224.6 346.5L220.6 348.9L218.2 351.3M241.3 372.8L243.7 369.6L246.1 366.4L248.5 364L253.2 363.2L258 362.9L262 364L264.4 367.2L266.8 371.2L267.6 375.2L269.2 378.3L268.4 381.5L267.6 386.3L264.4 389.5L261.2 392.7L258.8 395.8M268.4 379.1L272.3 378.3L276.3 378.8L279.5 380.7L280.3 384.7L281.1 388.7L283.5 391.9L286.7 392.7L289.9 389.5L292.2 387.9M296.2 360.8L294.6 364.8L295.4 369.6L297.8 372.8L298.6 377.5L296.2 379.9L293.8 381.5L295.4 384.7L292.2 387.9L292.2 391.9L293 395.8L289.9 399L290.7 402.2L294.6 403L297.8 405.4L301 407.8L302.6 411.8L301.8 415.7L300.2 419.7L300.2 423.2M296.2 360.8L299.4 358.4L303.4 360L307.4 359.2L310.6 356L313.7 355.2L316.1 358.4L319.3 359.2L322.5 358.4L323.3 354.5L325.7 350.5L324.9 345.7L328.1 341.7L332 340.1L335.2 336.1L334.4 332.2L336.8 328.2L339.2 325M322.5 358.4L326.5 360.8L329.7 364.8L333.6 366.4L340 364M351.1 351.2L351.1 360L353.6 367.5L354.4 375L353.6 382.4L351.1 387.4L348.7 393.7L347.4 399.9L348.7 407.4L351.1 412.4L349.9 415.4M351.1 352L364.9 352.5L379.8 352M382.3 351.2L384.8 360L386.1 367.5L388.6 375L387.3 382.4L388.6 389.9L391.1 397.4L393.6 403.6M389.8 351.2L393.6 357.5L396.1 365L397.8 375L398.6 384.9L398.6 394.9L399.8 402.4M422.3 351.2L421 360L417.3 365L413.5 370L411 375L409.8 382.4L409.8 392.4L410.3 401.6M474.7 418.6L477.1 412.4L479.6 406.1L484.6 399.9L490.9 396.2L497.1 396.2L502.1 399.9L507.1 396.2L510.8 389.9L513.3 382.4L517.1 375L520.8 368.7L524.6 362.5L528.3 356.2L532 350M487.1 446.1L503.3 446.1L503.3 458.5L483.4 458.5M503.3 446.1L512.1 445.6L522.1 446.1L523.3 448.6L532 447.3L542 446.8L550 448.6M522.1 447.3L524.6 452.3L529.5 454.8L534.5 457.3L535.8 462.3L532 467.3L529.5 474.8L534.5 479.7L535.8 486L534.5 492.2L529.5 496L524.6 493.5L519.6 494.7L515.8 491L510.8 493.5L505.8 494.7L505.8 502.7M298.8 304L322.5 303.5L323 297.3L321.2 289.8L319.5 277.3L318 262.4L316.2 244.9L315 229.9L313.7 215L312 202.5L327.4 202M320 197.5L327.4 202L393.6 244.4L396.1 248.7L401 252.4L407.3 253.6L413.5 256.1L416 261.1L414.8 265.4L419.8 266.6L427.2 265.4L442.2 261.9L449.7 257.4L459.7 248.7L472.2 239.9L484.6 232.4L497.1 225L509.1 218M509.1 218L504.6 210L498.4 207.5L492.1 206.2L488.4 201.2L487.1 198.8M509.1 218L519.6 221.2L533.3 227.4L542 224.5L550 222M542 224.5L543.3 232.4L545.8 242.4L550 248.7M427.2 265.4L427.2 274.9L426.7 284.8L426 293.6L423.5 299.8L419.8 304.8L409.8 306L399.8 306L392.3 308.5L383.6 309.8L374.9 308.5L367.4 311L359.9 314.8L353.6 317.3L349.9 322.3L344.9 327.2L338.7 327.2L333.7 332.2L332.4 339.7L327.4 343.5L325 349.7L323.7 359.9M383.6 309.8L383.6 316L387.3 322.3L392.3 327.2L396.1 332.2L402.3 336L407.3 338.5L413.5 339.7L417.3 343.5L419.8 347.2L422.3 334.7L426 326L432.2 322.8L441 322.3L447.2 324.3L454.7 329.7L462.2 328.5L469.7 329.7L477.1 332.2L484.6 332.2L490.9 328.5L499.6 327.2L507.1 327.2L513.3 329.7L519.6 326L525.8 323.5M407.3 338.5L404.8 344.7L399.8 348.5L393.6 350.9L387.3 352.2L379.8 350.9L351.1 352.2L349.9 359.9M419.8 347.2L419.3 354.7L421 359.9M525.8 323.5L532 329.7L534.5 336L538.3 342.2L537 349.7L533.3 355.9L529.5 359.9M533.3 329.7L539.5 336L543.3 344.7L544.5 354.7L543.3 359.9M540.8 296.8L533 307L526.5 315L525.8 323.5M538.8 224.2L553.7 218.7L638.6 259.9M542.5 225L543.7 234.9L547.5 244.9L552 252.4L549.5 262.4L548 274.9L547 287.3L540 296.1M649 198.8L649 254.9L639.8 255.4L638.6 259.9L638.6 299.8L628.6 301L626.1 307.3L622.3 314.8L618.6 322.3L619.8 329.7L616.1 332.2L619.8 336L621.1 343.5L623.6 349.7L626.1 352.2L614.9 355.9L612.4 360.9M649 234.2L717.1 234.2L718.4 231.9L719.6 234.2L775.8 234.2M626.1 352.2L632.3 360.9M649.8 359.9L657.3 357.7L659.8 359.9M790 282.3L783.3 286.1L778.3 288.6L775.8 297.3L773.3 307.3L772 317.3L779.5 315.3L783.3 317.3L790 311M772 317.3L770.8 327.2L767 333.5L760.8 339.7L757.1 347.2L754.6 353.4L748.3 357.2L745.8 360.9M725.9 342.2L737.1 339.7L737.1 344.7L735.9 354.7L739.6 360.9M725.9 342.2L728.4 349.7L723.4 360.9M540 352.5L546.2 360L548.7 362.5M540 373.7L543.7 379.9L547.5 388.7L542.5 396.2L540 399.9M548.7 388.7L557.5 386.2L561.2 388.7L568.7 384.9L579.9 382.4L586.2 377.4L584.9 373.7L593.6 373.7L599.9 371.2L607.4 365L613.6 358.7L619.8 353.7L626.1 351.2L632.3 357.5L634.8 363.7L633.6 371.2L636.1 376.2L641 377.4L644.8 370L648.5 361.2L657.3 358.7L663.5 365L668.5 368L677.2 367.5L684.7 370L689.7 370L695.9 365L702.2 360.5L707.2 361.2L712.2 365.5L718.4 363.7L724.6 357.5L729.6 352.5L732.1 348.8M641 377.4L647.3 383.7L653.5 389.9L659.8 396.2L664.8 401.1L669.7 406.1L673.5 413.6L664.8 415.4L654.8 413.6L647.3 416.9L639.8 417.4L632.3 418.6L624.8 421.1L621.1 424.9L613.6 424.4L604.9 422.4L598.6 418.6L591.1 415.4L586.2 417.4L582.4 422.4L580.4 429.8L569.9 431.1L562.5 430.3L557.5 433.6L556.2 439.8L553.7 446.1L553.7 451L545 448.6L540 447.8M580.4 429.8L581.2 436.1L577.4 444.8L574.9 454.8L572.4 464.8L571.2 474.8L567.4 479.7L561.2 484.7L556.2 492.2L555 503.4M673.5 413.6L679.7 419.9L686 423.6L692.2 422.4L697.2 421.1L702.2 424.9L707.2 428.6L710.9 431.1L717.1 429.3L723.4 431.1L729.6 428.6L737.1 429.3L743.3 426.1L748.3 421.1M755.8 351.2L752.1 356.2L747.1 361.2L745.8 368.7L747.1 376.2L739.6 379.9L735.9 384.9L739.6 388.7L745.8 392.4L750.8 397.4L754.6 403.6L759.6 409.9L764.6 414.9L765.8 421.1L772 422.4L779.5 423.6L785.8 427.3L790 431.1M710.9 431.1L712.2 437.3L710.9 443.6L715.9 447.3L713.4 452.3L707.2 457.3L703.4 462.3L700.9 468.5L699.2 474.8L698.4 482.2L699.7 486M748.3 421.1L750.8 427.3L753.3 436.1L755.8 444.8L755.8 451L752.1 457.3L748.3 463.5L745.1 469.8L744.6 479.7M707.2 481L744.6 480.2L759.6 488.5L774.5 497.2L785.8 503.4M839.9 355L844.9 365L852.4 373.7L864.9 377.5L879.9 382.5L896.1 385L889.9 393.7L879.9 403.7L869.9 412.4L863.7 416.9L852.4 417.4L844.9 419.9L841.2 422.9L832.4 424.9L828.7 427.4L823.7 426.9L818.7 424.2L813.7 426.2L807.5 429.9L805 433.2L795 431.9L790 431.2L785 427.4L780 424.4M906.1 348.8L906.9 360L906.1 368.7L902.4 377.5L896.1 385M828.7 427.4L825 433.7L820.5 439.4L820.5 449.9L820.5 462.4L820.5 478.6L823.7 483.6L827.5 487.4M841.2 293.7L843.7 286.2L846.2 283.2L854.9 283.7L864.9 284.4L874.9 284.9L882.9 285.7L887.4 288.7L891.1 286.2L894.9 281.2L899.9 276.2L907.4 272.4L917.4 269.9L929.9 267.9L938.6 266.9L944.8 278.7L950.3 290.4M938.6 266.9L949.8 263.7L962.3 259.4L971.1 256.2L973.6 248.7L977.3 237.5L976.1 230L972.8 227L959.8 225.5L944.8 223.7L939.8 220L934.8 213.7L931.1 210M972.8 227L974.8 220L978.6 213.7L979.8 207.5L983.5 205L982.3 198.8M780 317.4L785 311.1L791.2 314.9L800 316.1L807.5 314.9L815 317.4L822.5 322.4L828.7 329.9L833.7 336.9L837.4 341.1M830 343.6L828.7 349.9L833.7 352.8L839.9 352.3M778.8 287.9L787.5 282.4L795 277.9M242.6 229L242.6 219.2L253.3 219.2L253.3 201M230.6 228.4L236 218L240 210L246 203L249.7 202M647 152L648.5 175L649 199"/>
</g>
<rect x="60.6" y="54.4" width="930.9" height="447.9" fill="none" stroke="#ababab" stroke-width="1.4"/>
<g class="ax">
<text x="11.6" y="67.5" textLength="40.1" lengthAdjust="spacingAndGlyphs">38°N</text>
<text x="11.6" y="88.9" textLength="40.1" lengthAdjust="spacingAndGlyphs">36°N</text>
<text x="11.6" y="110.3" textLength="40.1" lengthAdjust="spacingAndGlyphs">34°N</text>
<text x="11.6" y="131.8" textLength="40.1" lengthAdjust="spacingAndGlyphs">32°N</text>
<text x="11.6" y="153.2" textLength="40.1" lengthAdjust="spacingAndGlyphs">30°N</text>
<text x="11.6" y="174.6" textLength="40.1" lengthAdjust="spacingAndGlyphs">28°N</text>
<text x="11.6" y="196" textLength="40.1" lengthAdjust="spacingAndGlyphs">26°N</text>
<text x="11.6" y="217.5" textLength="40.1" lengthAdjust="spacingAndGlyphs">24°N</text>
<text x="11.6" y="238.9" textLength="40.1" lengthAdjust="spacingAndGlyphs">22°N</text>
<text x="11.6" y="260.3" textLength="40.1" lengthAdjust="spacingAndGlyphs">20°N</text>
<text x="11.6" y="281.7" textLength="40.1" lengthAdjust="spacingAndGlyphs">18°N</text>
<text x="11.6" y="303.2" textLength="40.1" lengthAdjust="spacingAndGlyphs">16°N</text>
<text x="11.6" y="324.6" textLength="40.1" lengthAdjust="spacingAndGlyphs">14°N</text>
<text x="11.6" y="346" textLength="40.1" lengthAdjust="spacingAndGlyphs">12°N</text>
<text x="11.6" y="367.5" textLength="40.1" lengthAdjust="spacingAndGlyphs">10°N</text>
<text x="22.7" y="388.9" textLength="29" lengthAdjust="spacingAndGlyphs">8°N</text>
<text x="22.7" y="410.3" textLength="29" lengthAdjust="spacingAndGlyphs">6°N</text>
<text x="22.7" y="431.7" textLength="29" lengthAdjust="spacingAndGlyphs">4°N</text>
<text x="22.7" y="453.2" textLength="29" lengthAdjust="spacingAndGlyphs">2°N</text>
<text x="35.8" y="474.6" textLength="15.9" lengthAdjust="spacingAndGlyphs">0°</text>
<text x="22.7" y="496" textLength="29" lengthAdjust="spacingAndGlyphs">2°S</text>
<text x="59.6" y="522.7" textLength="43.9" lengthAdjust="spacingAndGlyphs">28°W</text>
<text x="145.4" y="522.7" textLength="43.9" lengthAdjust="spacingAndGlyphs">20°W</text>
<text x="231.1" y="522.7" textLength="43.9" lengthAdjust="spacingAndGlyphs">12°W</text>
<text x="279.3" y="522.7" textLength="33.2" lengthAdjust="spacingAndGlyphs">8°W</text>
<text x="322.1" y="522.7" textLength="33.2" lengthAdjust="spacingAndGlyphs">4°W</text>
<text x="373.6" y="522.7" textLength="15.9" lengthAdjust="spacingAndGlyphs">0°</text>
<text x="410.9" y="522.7" textLength="27" lengthAdjust="spacingAndGlyphs">4°E</text>
<text x="453.8" y="522.7" textLength="27" lengthAdjust="spacingAndGlyphs">8°E</text>
<text x="491.7" y="522.7" textLength="37" lengthAdjust="spacingAndGlyphs">12°E</text>
<text x="534.5" y="522.7" textLength="37" lengthAdjust="spacingAndGlyphs">16°E</text>
<text x="577.4" y="522.7" textLength="37" lengthAdjust="spacingAndGlyphs">20°E</text>
<text x="620.2" y="522.7" textLength="37" lengthAdjust="spacingAndGlyphs">24°E</text>
<text x="663.1" y="522.7" textLength="37" lengthAdjust="spacingAndGlyphs">28°E</text>
<text x="705.9" y="522.7" textLength="37" lengthAdjust="spacingAndGlyphs">32°E</text>
<text x="748.8" y="522.7" textLength="37" lengthAdjust="spacingAndGlyphs">36°E</text>
<text x="791.7" y="522.7" textLength="37" lengthAdjust="spacingAndGlyphs">40°E</text>
<text x="834.5" y="522.7" textLength="37" lengthAdjust="spacingAndGlyphs">44°E</text>
<text x="877.4" y="522.7" textLength="37" lengthAdjust="spacingAndGlyphs">48°E</text>
<text x="920.2" y="522.7" textLength="37" lengthAdjust="spacingAndGlyphs">52°E</text>
<text x="963.1" y="522.7" textLength="37" lengthAdjust="spacingAndGlyphs">56°E</text>
</g>
<rect x="153.1" y="570.6" width="53.5" height="20.3" fill="#6e5fdc"/>
<rect x="206.3" y="570.6" width="53.5" height="20.3" fill="#1e6eeb"/>
<rect x="259.6" y="570.6" width="53.5" height="20.3" fill="#2882f0"/>
<rect x="312.9" y="570.6" width="53.5" height="20.3" fill="#3c96f5"/>
<rect x="366.1" y="570.6" width="53.5" height="20.3" fill="#50a5f5"/>
<rect x="419.4" y="570.6" width="53.5" height="20.3" fill="#78b9fa"/>
<rect x="472.6" y="570.6" width="53.5" height="20.3" fill="#96d2fa"/>
<rect x="525.9" y="570.6" width="53.5" height="20.3" fill="#b4f0fa"/>
<rect x="579.1" y="570.6" width="53.5" height="20.3" fill="#ffff64"/>
<rect x="632.4" y="570.6" width="53.5" height="20.3" fill="#ffe600"/>
<rect x="685.6" y="570.6" width="53.5" height="20.3" fill="#ffa000"/>
<rect x="738.9" y="570.6" width="53.5" height="20.3" fill="#ff6000"/>
<rect x="792.1" y="570.6" width="53.5" height="20.3" fill="#ff3200"/>
<rect x="845.4" y="570.6" width="53.5" height="20.3" fill="#e11400"/>
<rect x="153.1" y="570.6" width="745.5" height="20.3" fill="none" stroke="#ababab" stroke-width="1.2"/>
<g class="cb" text-anchor="middle">
<text x="152.8" y="606.5" textLength="20.5" lengthAdjust="spacingAndGlyphs">984</text>
<text x="206" y="606.5" textLength="20.5" lengthAdjust="spacingAndGlyphs">988</text>
<text x="259.3" y="606.5" textLength="20.5" lengthAdjust="spacingAndGlyphs">992</text>
<text x="312.6" y="606.5" textLength="20.5" lengthAdjust="spacingAndGlyphs">996</text>
<text x="365.8" y="606.5" textLength="27.7" lengthAdjust="spacingAndGlyphs">1000</text>
<text x="419.1" y="606.5" textLength="27.7" lengthAdjust="spacingAndGlyphs">1004</text>
<text x="472.3" y="606.5" textLength="27.7" lengthAdjust="spacingAndGlyphs">1008</text>
<text x="525.6" y="606.5" textLength="27.7" lengthAdjust="spacingAndGlyphs">1012</text>
<text x="578.8" y="606.5" textLength="27.7" lengthAdjust="spacingAndGlyphs">1016</text>
<text x="632.1" y="606.5" textLength="27.7" lengthAdjust="spacingAndGlyphs">1020</text>
<text x="685.3" y="606.5" textLength="27.7" lengthAdjust="spacingAndGlyphs">1024</text>
<text x="738.6" y="606.5" textLength="27.7" lengthAdjust="spacingAndGlyphs">1028</text>
<text x="791.8" y="606.5" textLength="27.7" lengthAdjust="spacingAndGlyphs">1032</text>
<text x="845.1" y="606.5" textLength="27.7" lengthAdjust="spacingAndGlyphs">1036</text>
<text x="898.3" y="606.5" textLength="27.7" lengthAdjust="spacingAndGlyphs">1040</text>
<text x="525.8" y="626" textLength="90.5" lengthAdjust="spacingAndGlyphs">Pression (Hpa)</text>
</g>
</svg>
</body></html>
